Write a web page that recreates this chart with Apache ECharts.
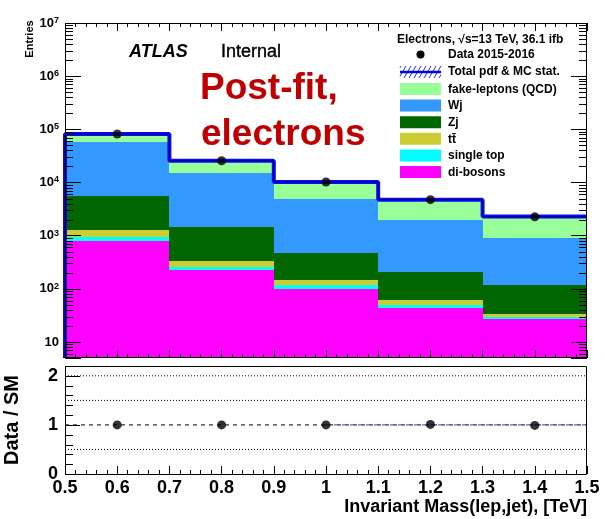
<!DOCTYPE html>
<html>
<head>
<meta charset="utf-8">
<script src="https://cdn.jsdelivr.net/npm/echarts@6/dist/echarts.min.js"></script>
<style>
  html, body { margin: 0; padding: 0; background: #fff; }
  #chart { width: 605px; height: 519px; }
</style>
</head>
<body>
<div id="chart"></div>
<script>
// Bin edges and centres of the invariant mass distribution [TeV]
const binEdges = [0.5, 0.7, 0.9, 1.1, 1.3, 1.5];
const binCenters = [0.6, 0.8, 1.0, 1.2, 1.4];

// Post-fit background yields per bin (stacked bottom to top)
const diBosons    = [805, 226, 99, 44, 27];
const singleTop   = [128, 32, 19, 6, 2.9];
const ttbar       = [347, 81, 26, 11, 3.7];
const zJets       = [4290, 1100, 330, 147, 84];
const wJets       = [53000, 13460, 4500, 1760, 775];
const fakeLeptons = [23100, 10800, 5270, 2780, 1390];

// Observed events and ratio to the SM prediction
const dataCounts = [81700, 25700, 10240, 4750, 2260];
const dataOverSM = [1.0, 1.0, 1.0, 1.01, 0.99];

// Reference levels in the ratio panel
const ratioDotted = [0.5, 1.5, 2];
const ratioUnity = 1;

// Axis ranges
const yMin = 5, yMax = 1e7;
const ratioMin = 0, ratioMax = 2.2;

const FONT = '"Liberation Sans", Arial, Helvetica, sans-serif';

const components = [
  { name: 'di-bosons', values: diBosons, color: '#ff00ff' },
  { name: 'single top', values: singleTop, color: '#00ffff' },
  { name: 't\u0074\u0304', values: ttbar, color: '#cccc33' },
  { name: 'Zj', values: zJets, color: '#006600' },
  { name: 'Wj', values: wJets, color: '#3399ff' },
  { name: 'fake-leptons (QCD)', values: fakeLeptons, color: '#99ff99' }
];

// Build stacked rectangles [x0, x1, low, high]
const cumulative = binCenters.map(() => 0);
const stackSeries = components.map(comp => {
  const data = comp.values.map((v, i) => {
    const lo = cumulative[i];
    const hi = lo + v;
    cumulative[i] = hi;
    return [binEdges[i], binEdges[i + 1], Math.max(lo, yMin), hi];
  });
  return {
    type: 'custom',
    name: comp.name,
    xAxisIndex: 0,
    yAxisIndex: 0,
    clip: true,
    z: 2,
    encode: { x: [0, 1], y: [2, 3] },
    data: data,
    renderItem: function (params, api) {
      const a = api.coord([api.value(0), api.value(3)]);
      const b = api.coord([api.value(1), api.value(2)]);
      const cs = params.coordSys;
      const x0 = Math.round(Math.max(a[0], cs.x));
      const x1 = Math.round(Math.min(b[0], cs.x + cs.width));
      const y0 = Math.round(Math.max(a[1], cs.y));
      const y1 = Math.round(Math.min(b[1], cs.y + cs.height));
      if (x1 <= x0 || y1 <= y0) return null;
      return {
        type: 'rect',
        shape: { x: x0, y: y0, width: x1 - x0, height: y1 - y0 },
        style: { fill: comp.color }
      };
    }
  };
});

// Total prediction outline as a step histogram (opens at the low edge)
const totals = cumulative.slice();
const stepPoints = [[binEdges[0], yMin]];
totals.forEach((t, i) => {
  stepPoints.push([binEdges[i], t]);
  stepPoints.push([binEdges[i + 1], t]);
});

// Minor ticks of the log axis (2..9 x 10^n)
const logMinor = [];
for (let n = 0; n <= 6; n++) {
  for (let k = 2; k <= 9; k++) {
    const v = k * Math.pow(10, n);
    if (v > yMin && v < yMax) logMinor.push([0.5, v]);
  }
}
const ratioMinor = [];
for (let i = 1; i < 11; i++) {
  const v = Math.round(i * 2) / 10;
  if (Math.abs(v - Math.round(v)) > 1e-9) ratioMinor.push([0.5, v]);
}

function minorTickSeries(xi, yi, data, len, bothSides) {
  return {
    type: 'custom',
    xAxisIndex: xi,
    yAxisIndex: yi,
    z: 20,
    silent: true,
    clip: false,
    encode: { x: 0, y: 1 },
    data: data,
    renderItem: function (params, api) {
      const p = api.coord([api.value(0), api.value(1)]);
      const cs = params.coordSys;
      const y = Math.round(p[1]) + 0.5;
      const children = [{
        type: 'line',
        shape: { x1: cs.x, y1: y, x2: cs.x + len, y2: y },
        style: { stroke: '#000', lineWidth: 1 }
      }];
      if (bothSides) {
        children.push({
          type: 'line',
          shape: { x1: cs.x + cs.width - len, y1: y, x2: cs.x + cs.width, y2: y },
          style: { stroke: '#000', lineWidth: 1 }
        });
      }
      return { type: 'group', children: children };
    }
  };
}

const tickStyle = { lineStyle: { color: '#000', width: 1 } };

function xAxisDef(gridIndex, position, showLabels) {
  return {
    type: 'value',
    gridIndex: gridIndex,
    position: position,
    min: 0.5,
    max: 1.5,
    interval: 0.1,
    z: 10,
    axisLine: { show: false },
    splitLine: { show: false },
    axisTick: Object.assign({ show: true, inside: true, length: 8 }, tickStyle),
    minorTick: Object.assign({ show: true, splitNumber: 5, length: 4 }, tickStyle),
    axisLabel: {
      show: showLabels,
      color: '#000',
      fontFamily: FONT,
      fontWeight: 'bold',
      fontSize: 18,
      margin: 5
    }
  };
}

function logAxisDef(position, showLabels) {
  return {
    type: 'log',
    logBase: 10,
    gridIndex: 0,
    position: position,
    min: yMin,
    max: yMax,
    z: 10,
    axisLine: { show: false },
    splitLine: { show: false },
    minorTick: { show: false },
    axisTick: Object.assign({ show: true, inside: true, length: 16 }, tickStyle),
    axisLabel: {
      show: showLabels,
      margin: 6,
      color: '#000',
      formatter: function (v) {
        const lg = Math.log10(v);
        const e = Math.round(lg);
        if (Math.abs(lg - e) > 1e-6) return '';
        if (e === 1) return '{b|10}';
        return '{b|10}{e|' + e + '}';
      },
      rich: {
        b: { fontFamily: FONT, fontWeight: 'bold', fontSize: 13, lineHeight: 14, color: '#000' },
        e: { fontFamily: FONT, fontWeight: 'bold', fontSize: 9, lineHeight: 8, verticalAlign: 'top', color: '#000' }
      }
    }
  };
}

const legendRows = [
  { y: 89, color: '#99ff99', label: 'fake-leptons (QCD)' },
  { y: 105.6, color: '#3399ff', label: 'Wj' },
  { y: 122.2, color: '#006600', label: 'Zj' },
  { y: 138.8, color: '#cccc33', label: 't\u0074\u0304' },
  { y: 155.4, color: '#00ffff', label: 'single top' },
  { y: 172, color: '#ff00ff', label: 'di-bosons' }
];

const legendFont = 'bold 12px ' + FONT;
const graphics = [];
// plot frames
graphics.push({ type: 'rect', z: 50, silent: true,
  shape: { x: 65.5, y: 23.5, width: 521, height: 334 },
  style: { fill: null, stroke: '#000', lineWidth: 1 } });
graphics.push({ type: 'rect', z: 50, silent: true,
  shape: { x: 65.5, y: 366.5, width: 521, height: 108 },
  style: { fill: null, stroke: '#000', lineWidth: 1 } });

// legend
graphics.push({ type: 'text', z: 60, x: 397, y: 40,
  style: { text: 'Electrons, \u221As=13 TeV, 36.1 ifb', font: legendFont, fill: '#000', verticalAlign: 'middle' } });
graphics.push({ type: 'circle', z: 60, shape: { cx: 420.5, cy: 54.5, r: 4 }, style: { fill: '#000' } });
graphics.push({ type: 'text', z: 60, x: 448, y: 55,
  style: { text: 'Data 2015-2016', font: legendFont, fill: '#000', verticalAlign: 'middle' } });
// hatched band icon
const hatch = [];
for (let hx = -6; hx < 42; hx += 5) {
  const xa = Math.max(hx, 0), xb = Math.min(hx + 7, 41);
  const ya = 78 - (xa - hx) * 12 / 7, yb = 78 - (xb - hx) * 12 / 7;
  if (xb > xa) hatch.push({ type: 'line', shape: { x1: 400 + xa, y1: ya, x2: 400 + xb, y2: yb },
    style: { stroke: '#2a2aff', lineWidth: 1 } });
}
graphics.push({ type: 'group', z: 60, children: hatch.concat([{ type: 'line',
  shape: { x1: 400, y1: 72, x2: 441, y2: 72 }, style: { stroke: '#0000ee', lineWidth: 2.5 } }]) });
graphics.push({ type: 'text', z: 60, x: 448, y: 72,
  style: { text: 'Total pdf & MC stat.', font: legendFont, fill: '#000', verticalAlign: 'middle' } });
legendRows.forEach(r => {
  graphics.push({ type: 'rect', z: 60, shape: { x: 400, y: r.y - 6, width: 41, height: 12 },
    style: { fill: r.color } });
  graphics.push({ type: 'text', z: 60, x: 448, y: r.y + 0.5,
    style: { text: r.label, font: legendFont, fill: '#000', verticalAlign: 'middle' } });
});

// labels
graphics.push({ type: 'text', z: 60, x: 129, y: 52,
  style: { text: 'ATLAS', font: 'italic bold 18px ' + FONT, fill: '#000', verticalAlign: 'middle' } });
graphics.push({ type: 'text', z: 60, x: 221, y: 52,
  style: { text: 'Internal', font: '18px ' + FONT, fill: '#000', stroke: '#000', lineWidth: 0.4, verticalAlign: 'middle' } });
graphics.push({ type: 'text', z: 60, x: 200, y: 88.5,
  style: { text: 'Post-fit,', font: 'bold 37px ' + FONT, fill: '#c00000', verticalAlign: 'middle' } });
graphics.push({ type: 'text', z: 60, x: 201, y: 135,
  style: { text: 'electrons', font: 'bold 37px ' + FONT, fill: '#c00000', verticalAlign: 'middle' } });
graphics.push({ type: 'text', z: 60, x: 30, y: 39, rotation: Math.PI / 2,
  style: { text: 'Entries', font: 'bold 11px ' + FONT, fill: '#000', align: 'center', verticalAlign: 'middle' } });
graphics.push({ type: 'text', z: 60, x: 12, y: 420, rotation: Math.PI / 2,
  style: { text: 'Data / SM', font: 'bold 20px ' + FONT, fill: '#000', align: 'center', verticalAlign: 'middle' } });
graphics.push({ type: 'text', z: 60, x: 587, y: 507,
  style: { text: 'Invariant Mass(lep,jet), [TeV]', font: 'bold 18px ' + FONT, fill: '#000', align: 'right', verticalAlign: 'middle' } });

const chart = echarts.init(document.getElementById('chart'), null, { renderer: 'canvas' });

const option = {
  animation: false,
  backgroundColor: '#ffffff',
  grid: [
    { left: 65, top: 23, width: 522, height: 335 },
    { left: 65, top: 366, width: 522, height: 108 }
  ],
  xAxis: [
    xAxisDef(0, 'bottom', false),
    xAxisDef(0, 'top', false),
    xAxisDef(1, 'bottom', true)
  ],
  yAxis: [
    logAxisDef('left', true),
    logAxisDef('right', false),
    {
      type: 'value',
      gridIndex: 1,
      min: ratioMin,
      max: ratioMax,
      interval: 1,
      z: 10,
      axisLine: { show: false },
      splitLine: { show: false },
      minorTick: { show: false },
      axisTick: Object.assign({ show: true, inside: true, length: 15 }, tickStyle),
      axisLabel: {
        margin: 7,
        color: '#000',
        fontFamily: FONT,
        fontWeight: 'bold',
        fontSize: 18,
        formatter: function (v) {
          return Math.abs(v - Math.round(v)) < 1e-9 ? String(Math.round(v)) : '';
        }
      }
    }
  ],
  graphic: graphics,
  series: stackSeries.concat([
    {
      type: 'line',
      name: 'Total pdf & MC stat.',
      xAxisIndex: 0,
      yAxisIndex: 0,
      data: stepPoints,
      symbol: 'none',
      z: 5,
      lineStyle: { color: '#0a0aff', width: 4 }
    },
    {
      type: 'line',
      xAxisIndex: 0,
      yAxisIndex: 0,
      data: stepPoints,
      symbol: 'none',
      z: 6,
      lineStyle: { color: '#00008a', width: 1.2 }
    },
    {
      type: 'scatter',
      name: 'Data 2015-2016',
      xAxisIndex: 0,
      yAxisIndex: 0,
      z: 8,
      symbolSize: 9,
      itemStyle: { color: '#000' },
      data: binCenters.map((x, i) => [x, dataCounts[i]])
    },
    minorTickSeries(0, 0, logMinor, 8, true),
    minorTickSeries(2, 2, ratioMinor, 8, false)
  ]).concat(ratioDotted.map(level => ({
    type: 'line',
    xAxisIndex: 2,
    yAxisIndex: 2,
    symbol: 'none',
    z: 3,
    silent: true,
    data: [[0.5, level], [1.5, level]],
    lineStyle: { color: '#000', width: 1, type: [1, 2] }
  }))).concat([
    {
      type: 'line',
      xAxisIndex: 2,
      yAxisIndex: 2,
      symbol: 'none',
      z: 3,
      silent: true,
      data: [[0.5, ratioUnity], [1.5, ratioUnity]],
      lineStyle: { color: '#000', width: 1, type: [4, 4] }
    },
    {
      type: 'line',
      xAxisIndex: 2,
      yAxisIndex: 2,
      symbol: 'none',
      z: 4,
      silent: true,
      data: [[1.0, ratioUnity], [1.5, ratioUnity]],
      lineStyle: { color: '#3a3ad0', width: 1, type: [3, 5], dashOffset: 0 }
    },
    {
      type: 'scatter',
      xAxisIndex: 2,
      yAxisIndex: 2,
      z: 8,
      symbolSize: 9,
      itemStyle: { color: '#000' },
      data: binCenters.map((x, i) => [x, dataOverSM[i]])
    }
  ])
};

chart.setOption(option);
</script>
</body>
</html>
